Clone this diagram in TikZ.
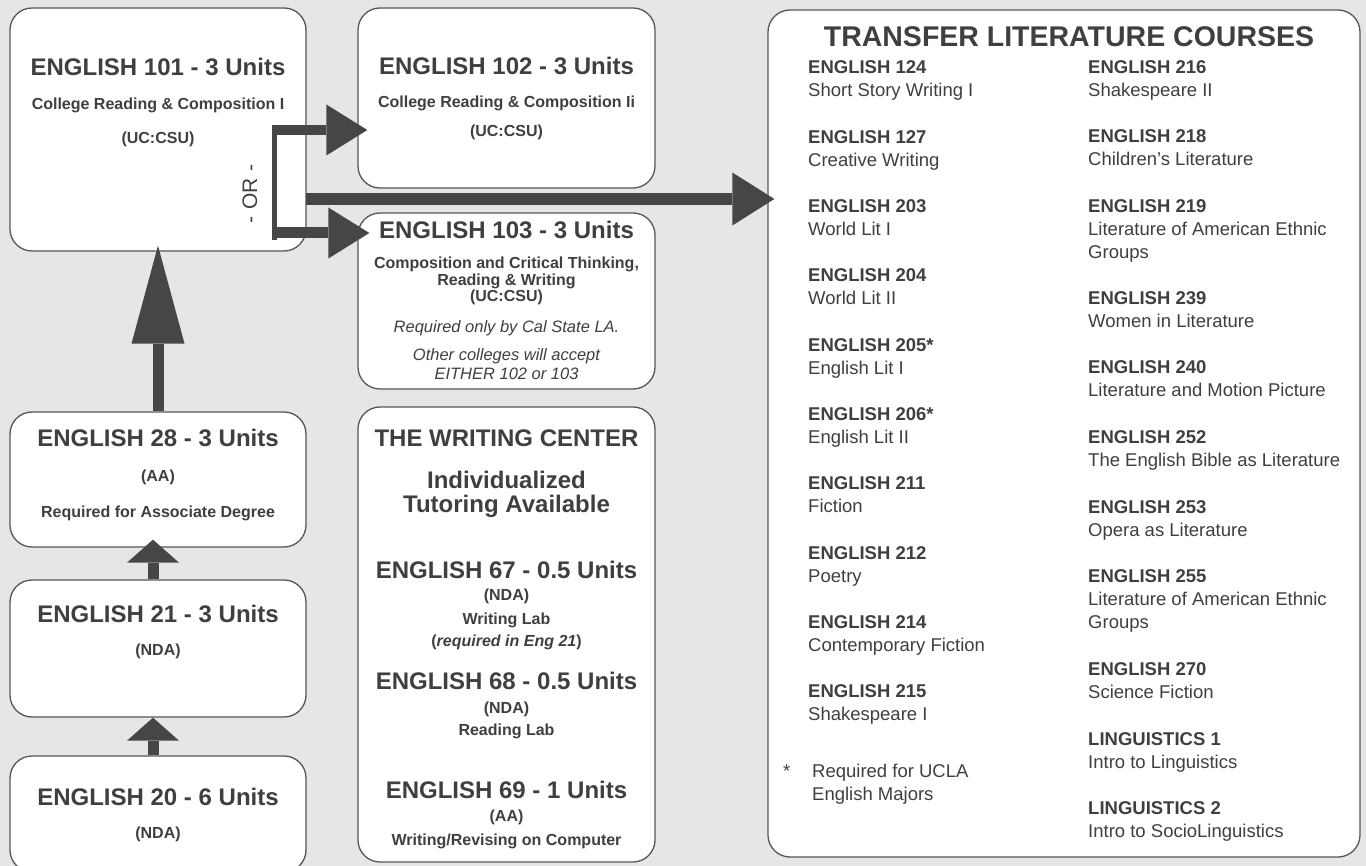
\documentclass[tikz,border=0pt]{standalone}
\usepackage{fontspec}
\setmainfont{Liberation Sans}
\usepackage{xcolor}
\usetikzlibrary{positioning, arrows.meta}

\definecolor{paper}{HTML}{E6E6E6}
\definecolor{ink}{HTML}{3F3F3F}
\definecolor{edge}{HTML}{575757}
\definecolor{shaft}{HTML}{464646}

\newcommand{\bigfont}{\fontsize{24}{26}\selectfont\bfseries}
\newcommand{\subfont}{\fontsize{16}{18}\selectfont\bfseries}
\newcommand{\notefont}{\fontsize{16.5}{19}\selectfont\itshape}
\newcommand{\orfont}{\fontsize{21}{24}\selectfont}
\newcommand{\titlefont}{\fontsize{28.5}{32}\selectfont\bfseries}
\newcommand{\coursefont}{\fontsize{18.5}{23}\selectfont}

\begin{document}
\begin{tikzpicture}[x=1pt, y=-1pt,
    box/.style={draw=edge, fill=white, line width=1.3pt, rounded corners=22pt, inner sep=0pt},
    big/.style={font=\bigfont, text=ink, anchor=base, inner sep=0pt},
    sub/.style={font=\subfont, text=ink, anchor=base, inner sep=0pt},
    note/.style={font=\notefont, text=ink, anchor=base, inner sep=0pt},
    course/.style={font=\coursefont, text=ink, anchor=base west, inner sep=0pt},
    fat/.style={draw=shaft, line width=11pt, -{Triangle[length=98pt, width=53pt, line width=0pt]}},
    stub/.style={draw=shaft, line width=11pt, -{Triangle[length=23pt, width=52pt, line width=0pt]}},
    prong/.style={draw=shaft, line width=10pt, -{Triangle[length=41pt, width=51pt, line width=0pt]}}]

    \fill[paper] (0,0) rectangle (1366,866);
    \useasboundingbox (0,0) rectangle (1366,866);

    \node[box, minimum width=296pt, minimum height=243pt] (e101) at (158,129.5) {};
    \node[box, minimum width=297pt, minimum height=180pt] (e102) at (506.5,98) {};
    \node[box, minimum width=297pt, minimum height=176pt] (e103) at (506.5,301) {};
    \node[box, minimum width=297pt, minimum height=455pt] (wc) at (506.5,634.5) {};
    \node[box, minimum width=296pt, minimum height=135pt] (e28) at (158,479.5) {};
    \node[box, minimum width=296pt, minimum height=137pt] (e21) at (158,648.5) {};
    \node[box, minimum width=296pt, minimum height=116pt] (e20) at (158,814) {};
    \node[box, minimum width=592pt, minimum height=847pt] (trans) at (1064,433.5) {};

    \node[big] (t101) at (158,76) {ENGLISH 101 - 3 Units};
    \node[sub] (n101) at (158,110) {College Reading \& Composition I};
    \node[sub] (u101) at (158,144) {(UC:CSU)};
    \node[rotate=90, font=\orfont, text=ink, inner sep=0pt] (orlabel) at (250,194) {-\hspace{7pt}OR\hspace{7pt}-};

    \node[big] (t102) at (506.5,75) {ENGLISH 102 - 3 Units};
    \node[sub] (n102) at (506.5,108) {College Reading \& Composition Ii};
    \node[sub] (u102) at (506.5,137) {(UC:CSU)};

    \node[big] (t103) at (506.5,239) {ENGLISH 103 - 3 Units};
    \node[sub] (n103) at (506.5,269) {Composition and Critical Thinking,};
    \node[sub] (w103) at (506.5,286) {Reading \& Writing};
    \node[sub] (u103) at (506.5,302) {(UC:CSU)};
    \node[note] (r103) at (506.5,333) {Required only by Cal State LA.};
    \node[note] (o103) at (506.5,361) {Other colleges will accept};
    \node[note] (x103) at (506.5,380) {EITHER 102 or 103};

    \node[big] (wctitle) at (506.5,447) {THE WRITING CENTER};
    \node[big] (wctut) at (506.5,489) {Individualized};
    \node[big] (wcavail) at (506.5,512) {Tutoring Available};
    \node[big] (t67) at (506.5,578) {ENGLISH 67 - 0.5 Units};
    \node[sub] (n67) at (506.5,600) {(NDA)};
    \node[sub] (l67) at (506.5,624) {Writing Lab};
    \node[sub] (r67) at (506.5,646) {(\textit{required in Eng 21})};
    \node[big] (t68) at (506.5,689) {ENGLISH 68 - 0.5 Units};
    \node[sub] (n68) at (506.5,713) {(NDA)};
    \node[sub] (l68) at (506.5,735) {Reading Lab};
    \node[big] (t69) at (506.5,798) {ENGLISH 69 - 1 Units};
    \node[sub] (n69) at (506.5,821) {(AA)};
    \node[sub] (l69) at (506.5,845) {Writing/Revising on Computer};

    \node[big] (t28) at (158,447) {ENGLISH 28 - 3 Units};
    \node[sub] (n28) at (158,482) {(AA)};
    \node[sub] (r28) at (158,518) {Required for Associate Degree};
    \node[big] (t21) at (158,622) {ENGLISH 21 - 3 Units};
    \node[sub] (n21) at (158,655) {(NDA)};
    \node[big] (t20) at (158,805) {ENGLISH 20 - 6 Units};
    \node[sub] (n20) at (158,838) {(NDA)};

    \node[font=\titlefont, text=ink, anchor=base, inner sep=0pt] (ttitle) at (1069,47) {TRANSFER LITERATURE COURSES};
    \foreach \nm/\x/\y/\hd/\sb in {
        c124/808/74/ENGLISH 124/Short Story Writing I,
        c127/808/143.3/ENGLISH 127/Creative Writing,
        c203/808/212.6/ENGLISH 203/World Lit I,
        c204/808/281.9/ENGLISH 204/World Lit II,
        c205/808/351.2/ENGLISH 205*/English Lit I,
        c206/808/420.5/ENGLISH 206*/English Lit II,
        c211/808/489.8/ENGLISH 211/Fiction,
        c212/808/559.1/ENGLISH 212/Poetry,
        c214/808/628.4/ENGLISH 214/Contemporary Fiction,
        c215/808/697.7/ENGLISH 215/Shakespeare I,
        c216/1088/74/ENGLISH 216/Shakespeare II,
        c218/1088/143/ENGLISH 218/Children's Literature,
        c219/1088/213/ENGLISH 219/Literature of American Ethnic,
        c239/1088/305/ENGLISH 239/Women in Literature,
        c240/1088/374/ENGLISH 240/Literature and Motion Picture,
        c252/1088/444/ENGLISH 252/The English Bible as Literature,
        c253/1088/513/ENGLISH 253/Opera as Literature,
        c255/1088/582/ENGLISH 255/Literature of American Ethnic,
        c270/1088/675/ENGLISH 270/Science Fiction,
        ling1/1088/745/LINGUISTICS 1/Intro to Linguistics,
        ling2/1088/814/LINGUISTICS 2/Intro to SocioLinguistics}
    {
        \node[course, font=\coursefont\bfseries] (\nm) at (\x,\y) {\hd};
        \node[course] (\nm-t) at (\x,\y+23) {\sb};
    }
    \node[course] (c219-g) at (1088,259) {Groups};
    \node[course] (c255-g) at (1088,628) {Groups};
    \node[course] (star) at (783,777) {*};
    \node[course] (ucla) at (812,777) {Required for UCLA};
    \node[course] (ucla-t) at (812,800) {English Majors};

    \coordinate (ortop) at (272,130);
    \coordinate (orbot) at (272,233);
    \coordinate (ormid) at (306,199);

    \draw[fat, shorten >=-6pt] (e28.north) -- (e101.south);
    \draw[stub, shorten >=-8pt] ([xshift=-5pt]e21.north) -- ([xshift=-5pt]e28.south);
    \draw[stub] ([xshift=-5pt]e20.north) -- ([xshift=-5pt]e21.south);

    \draw[shaft, line width=5pt] ([xshift=2.5pt,yshift=5pt]ortop) -- ([xshift=2.5pt,yshift=-7pt]orbot);
    \draw[prong, shorten >=-10pt] (ortop) -- (ortop -| e102.west);
    \draw[prong, line width=11pt, shorten >=-12pt] (orbot) -- (orbot -| e103.west);
    \draw[prong, line width=12pt, -{Triangle[length=42pt, width=53pt, line width=0pt]}, shorten >=-7pt] (ormid) -- (ormid -| trans.west);
\end{tikzpicture}
\end{document}
